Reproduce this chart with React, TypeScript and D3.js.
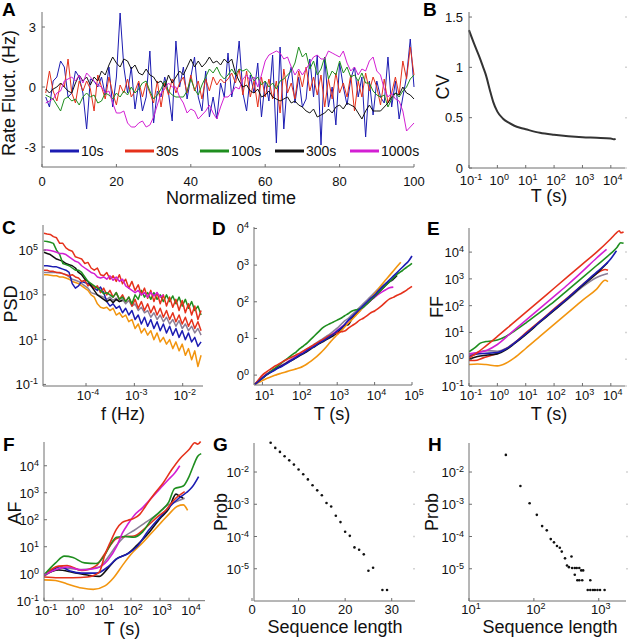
import React from "react";
import * as d3 from "d3";

const FONT = "'Liberation Sans', Arial, Helvetica, sans-serif";
const AXIS = "#6e6e6e";
const COL = {
  blue: "#1c1cb2",
  red: "#e5311b",
  green: "#1f8e1f",
  black: "#111111",
  magenta: "#d31fd3",
  gray: "#8b7f98",
  orange: "#f2950f",
};

// ---------------- Panel A: rate fluctuations ----------------
const aLegend = ["10s", "30s", "100s", "300s", "1000s"];
const a10s = [-0.5,-1.0,0.3,0.5,1.3,1.0,-0.5,-0.3,0.8,0.5,-0.3,-2.1,0.4,0.3,0.0,0.5,-0.4,1.0,-1.0,0.5,
  3.7,1.0,-0.3,1.0,-1.1,0.2,-1.2,-0.5,1.8,-1.8,-0.2,-0.5,0.5,-0.3,-1.7,2.3,0.0,1.0,-0.6,0.5,
  1.5,-0.5,-1.2,0.8,-1.5,-0.5,-1.6,0.2,-0.5,1.7,-0.5,0.5,2.3,-0.3,-1.2,0.6,-0.3,1.2,-1.5,0.3,
  -0.7,1.6,-2.8,2.0,-2.1,0.3,1.0,-0.8,0.5,-1.0,-0.6,1.4,-0.5,1.6,-2.9,1.5,-1.0,0.0,-1.9,1.2,
  0.0,-0.9,0.4,1.0,-0.5,0.5,-2.5,0.3,-1.4,0.3,-0.5,-0.8,1.5,-1.0,0.3,-1.6,-0.5,0.5,2.4,0.0];
const a30s = [-0.3,0.8,-0.2,-0.7,0.2,0.0,1.4,-0.3,-0.8,0.3,-0.2,0.3,-0.1,-1.2,0.6,0.0,-0.6,0.5,-0.3,-0.9,
  0.1,-0.3,0.4,-0.5,-0.2,0.3,-0.5,0.2,-0.3,-0.8,0.3,-1.0,0.2,-0.4,0.4,-0.3,0.2,0.5,-0.3,0.6,
  -0.2,0.3,-0.6,0.4,-0.2,0.5,0.1,0.4,0.2,0.4,0.7,0.2,0.9,-0.4,0.8,-0.5,0.3,-1.0,0.5,-0.5,
  0.4,-0.6,0.3,-1.3,0.9,-0.3,0.2,-0.6,0.8,0.0,1.0,-0.2,0.5,-0.4,0.6,-1.0,0.4,-0.6,0.7,-0.3,
  0.2,-0.5,0.6,-1.2,0.3,-0.5,0.7,-0.2,0.5,0.0,-0.9,0.4,-0.8,-0.3,0.5,-0.4,1.3,0.4,2.0,0.6];
const a100s = [-0.4,-0.5,-0.6,-0.9,-1.2,-0.6,-0.5,-0.7,-0.6,-0.9,-0.5,-0.3,-0.5,-0.4,-0.8,-0.7,-0.3,-0.4,-0.6,-0.3,
  -0.5,-0.2,-0.4,0.0,-0.3,-0.1,0.2,0.3,-0.2,-0.6,-0.4,-0.1,0.3,-0.2,-0.4,-0.5,-0.5,-0.5,-0.2,0.4,
  -0.1,-0.4,0.1,0.5,0.9,0.7,1.0,0.6,0.4,0.6,0.9,0.6,0.9,0.8,0.9,0.7,0.3,0.5,0.1,0.3,
  0.0,0.2,-0.1,0.3,0.4,0.6,0.8,1.2,2.0,1.5,1.7,0.9,1.3,0.6,0.9,1.5,0.4,0.8,0.6,1.3,
  0.7,1.0,0.5,0.6,0.3,0.7,0.2,0.2,-0.2,-0.4,-0.5,-0.4,-1.0,-0.6,-0.3,-0.5,-0.2,0.0,0.4,0.6];
const a300s = [-0.1,-0.3,-0.1,0.0,0.2,0.0,-0.2,-0.3,0.2,0.6,0.3,0.5,0.1,0.5,0.3,0.8,0.6,1.1,1.5,1.2,
  1.0,1.4,1.3,0.9,1.1,0.7,0.6,0.9,0.6,0.5,0.2,0.3,0.0,0.6,0.2,0.5,0.8,0.6,1.0,1.4,
  1.0,1.3,1.0,1.2,1.5,1.2,1.3,1.1,1.4,1.2,1.4,0.7,0.3,0.0,0.1,-0.2,-0.3,-0.1,-0.5,-0.4,
  -0.2,-0.5,-0.6,-0.7,-0.6,-0.5,-0.8,-0.7,-0.9,-1.0,-1.2,-1.3,-1.1,-1.5,-1.4,-1.3,-1.1,-1.3,-1.0,-0.9,
  -1.1,-0.8,-0.9,-1.0,-1.3,-1.6,-1.2,-0.9,-1.2,-1.2,-1.2,-1.0,-0.8,-0.5,-0.3,-0.4,0.0,-0.3,-0.4,-0.6];
const a1000s = [-0.8,-0.7,-0.6,-0.3,-0.2,0.3,0.4,0.5,0.3,0.6,0.2,0.7,0.5,0.3,0.1,0.0,-0.3,-0.2,-0.8,-1.3,
  -1.3,-1.2,-1.8,-2.0,-2.0,-1.8,-1.7,-2.0,-1.9,-1.5,-0.9,-0.3,-0.1,0.2,0.0,0.0,-0.5,-0.8,-1.3,-1.1,
  -1.2,-1.6,-1.4,-1.2,-0.9,-1.3,-1.6,-1.0,-0.5,-0.5,-0.3,0.0,-0.1,0.4,0.6,0.3,0.5,0.0,0.6,1.3,
  1.6,1.7,1.8,1.7,1.4,1.5,1.0,0.6,0.9,0.6,0.9,1.2,1.5,1.6,1.4,1.4,1.8,1.7,1.6,1.5,
  1.8,1.2,0.8,1.0,0.6,0.9,0.8,1.3,1.5,0.8,0.6,-0.1,-0.5,-0.3,-0.6,-0.7,-1.2,-2.2,-2.0,-1.8];
const aXTicks = [0, 20, 40, 60, 80, 100];
const aYTicks = [-3, 0, 3];

// ---------------- Panel B: CV vs T (log10 T, CV) ----------------
const bLogT = [-1, -0.8, -0.6, -0.5, -0.4, -0.27, -0.15, 0, 0.2, 0.4, 0.6, 0.8, 1, 1.5, 2, 2.5, 3, 3.5, 4, 4.1, 4.17];
const bCV = [1.37, 1.22, 1.08, 1.0, 0.92, 0.78, 0.66, 0.56, 0.49, 0.45, 0.42, 0.4, 0.385, 0.35, 0.33, 0.315, 0.305, 0.3, 0.293, 0.285, 0.29];
const bYTicks = [0, 0.5, 1, 1.5];
const decadeTicksT = [-1, 0, 1, 2, 3, 4];

// ---------------- Panel C: PSD (log10 f grid, log10 PSD) ----------------
const cLogF = d3.range(51).map((i) => -4.87 + i * 0.065);
const cRed1 = [5.75,5.72,5.7,5.6,5.55,5.3,5.3,5.1,5.0,4.95,4.7,4.65,4.6,4.4,4.45,4.2,4.1,4.2,3.9,3.85,4.0,3.7,3.85,3.6,3.9,3.5,3.7,3.3,3.6,3.2,3.45,3.0,3.3,2.85,3.2,2.7,3.1,2.6,3.0,2.5,2.9,2.45,2.8,2.3,2.75,2.2,2.6,2.1,2.5,1.9,2.3];
const cGreen = [5.4,5.38,5.35,5.3,5.0,4.8,4.4,4.35,4.3,4.2,4.1,4.1,4.0,3.8,3.6,3.5,3.4,3.3,3.2,3.05,3.1,3.0,2.9,3.1,2.8,2.9,2.7,2.9,2.6,3.0,2.8,3.2,2.9,3.1,2.8,3.1,2.8,3.0,2.7,3.0,2.7,2.95,2.6,2.9,2.5,2.8,2.4,2.7,2.3,2.5,2.1];
const cMagenta = [5.0,5.0,4.98,4.95,4.9,4.85,4.85,4.8,4.7,4.6,4.5,4.45,4.3,4.2,4.1,4.0,3.95,3.8,3.75,3.8,3.7,3.85,3.65,3.8,3.6,3.7,3.4,3.3,3.2,3.1,3.2,3.0,3.1,2.9,3.1,2.95,3.1,2.9,3.0];
const cBlack = [4.9,4.85,4.8,4.7,4.6,4.55,4.5,4.4,4.35,4.3,4.2,4.0,3.9,3.7,3.6,3.4,3.2,3.0,2.9,2.8,2.7,2.8,2.65,2.8,2.7,2.75];
const cBlue = [4.3,4.3,4.28,4.25,4.25,4.2,4.15,4.1,4.0,3.5,3.3,3.4,3.6,3.55,3.5,3.4,3.3,3.2,3.35,3.1,2.7,2.5,2.6,2.4,2.5,2.2,2.4,2.1,2.3,1.9,2.1,1.7,2.0,1.6,1.9,1.5,1.8,1.4,1.7,1.3,1.6,1.2,1.5,1.1,1.4,1.0,1.3,0.9,1.1,0.7,0.9];
const cGray = [4.0,4.0,4.0,4.0,4.0,3.98,3.95,3.9,3.8,3.7,3.65,3.6,3.5,3.4,3.3,3.1,3.05,3.0,2.95,2.9,2.8,2.9,2.75,2.85,2.7,2.8,2.6,2.75,2.5,2.6,2.3,2.45,2.2,2.3,2.0,2.2,1.9,2.1,1.8,2.0,1.7,1.9,1.6,1.85,1.5,1.7,1.4,1.6,1.3,1.5,1.2];
const cOrange = [3.9,3.9,3.88,3.85,3.85,3.8,3.8,3.75,3.7,3.6,3.55,3.5,3.4,3.3,3.2,3.0,2.9,2.6,2.45,2.4,2.45,2.3,2.4,2.1,2.2,2.0,2.1,1.8,1.9,1.5,1.7,1.3,1.5,1.2,1.4,1.0,1.3,0.9,1.1,0.8,1.0,0.6,0.9,0.5,0.8,0.3,0.6,0.1,0.5,-0.2,0.3];
const cRed2 = [4.1,4.1,4.05,4.05,4.0,4.0,3.95,3.9,3.85,3.9,3.8,3.75,3.6,3.65,3.4,3.5,3.3,3.4,3.1,3.3,3.0,3.2,2.9,3.1,2.8,3.0,2.7,2.9,2.5,2.8,2.4,2.7,2.3,2.6,2.2,2.5,2.1,2.4,2.0,2.3,1.9,2.2,1.8,2.1,1.7,2.0,1.6,1.9,1.5,1.8,1.4];
const cXTicks = [-4, -3, -2];
const cYTicks = [-1, 1, 3, 5];

// ---------------- Panel D (log10 T grid, log10 value) ----------------
const dLogT = d3.range(43).map((i) => 0.8 + i * 0.1);
const dBlue = [-0.25,-0.17,-0.08,0.0,0.06,0.12,0.18,0.23,0.29,0.35,0.42,0.48,0.55,0.6,0.67,0.73,0.79,0.86,0.92,0.98,1.05,1.12,1.2,1.28,1.38,1.5,1.6,1.7,1.8,1.9,2.0,2.1,2.18,2.3,2.4,2.5,2.6,2.7,2.8,2.9,3.0,3.1,3.25];
const dBlack = [-0.25,-0.16,-0.08,0.0,0.07,0.13,0.19,0.24,0.3,0.36,0.41,0.47,0.53,0.59,0.65,0.72,0.78,0.85,0.9,0.96,1.02,1.08,1.15,1.25,1.35,1.38,1.55,1.65,1.75,1.88,1.95,2.05,2.15,2.25,2.35,2.45,2.55,2.62,2.72];
const dMagenta = [-0.25,-0.15,-0.06,0.02,0.09,0.15,0.2,0.26,0.3,0.38,0.43,0.5,0.56,0.62,0.7,0.75,0.82,0.88,0.95,1.0,1.06,1.14,1.22,1.3,1.38,1.48,1.58,1.68,1.77,1.86,1.95,2.04,2.12,2.2,2.27,2.33,2.38,2.4];
const dGray = [-0.25,-0.16,-0.07,0.01,0.08,0.14,0.2,0.26,0.32,0.38,0.45,0.52,0.58,0.65,0.72,0.78,0.85,0.92,0.98,1.05,1.12,1.2,1.28,1.38,1.48,1.55,1.65,1.75,1.85,1.95,2.05,2.15,2.25,2.35,2.42,2.5,2.55,2.6];
const dGreen = [-0.25,-0.16,-0.08,0.0,0.08,0.16,0.24,0.32,0.4,0.48,0.56,0.63,0.72,0.8,0.88,0.98,1.08,1.18,1.28,1.35,1.4,1.45,1.5,1.55,1.62,1.68,1.75,1.78,1.8,1.85,1.95,2.05,2.15,2.25,2.35,2.45,2.55,2.65,2.75,2.82,2.9,2.97,3.05];
const dRed = [-0.25,-0.12,0.0,0.08,0.15,0.22,0.28,0.34,0.4,0.45,0.5,0.55,0.6,0.66,0.72,0.78,0.84,0.9,0.96,1.02,1.08,1.12,1.15,1.18,1.2,1.28,1.35,1.42,1.5,1.55,1.62,1.7,1.75,1.82,1.9,2.0,2.08,2.12,2.18,2.22,2.28,2.35,2.42];
const dOrange = [-0.25,-0.2,-0.15,-0.1,-0.06,-0.02,0.02,0.05,0.08,0.11,0.14,0.17,0.2,0.25,0.31,0.38,0.46,0.55,0.65,0.76,0.88,1.0,1.1,1.2,1.31,1.42,1.52,1.63,1.74,1.86,1.98,2.1,2.22,2.35,2.48,2.6,2.72,2.84,2.96,3.08];
const dXTicks = [1, 2, 3, 4, 5];
const dYTicks = [0, 1, 2, 3, 4];

// ---------------- Panel E: FF ([log10 T, log10 FF]) ----------------
const eRed = [[-1,0.05],[-0.7,0.25],[-0.4,0.5],[0,0.85],[0.5,1.3],[1,1.75],[1.5,2.2],[2,2.65],[2.5,3.1],[3,3.55],[3.5,4.0],[4,4.5],[4.2,4.72],[4.3,4.8],[4.35,4.72],[4.45,4.75]];
const eMagenta = [[-1,0.2],[-0.7,0.25],[-0.4,0.32],[0,0.55],[0.5,1.0],[1,1.45],[1.5,1.9],[2,2.35],[2.5,2.8],[3,3.28],[3.5,3.78],[3.85,4.1]];
const eGreen = [[-1,0.28],[-0.8,0.42],[-0.6,0.6],[-0.4,0.66],[-0.2,0.68],[0,0.72],[0.3,0.85],[0.6,1.05],[1,1.35],[1.5,1.75],[2,2.15],[2.5,2.6],[3,3.05],[3.5,3.5],[4,3.95],[4.2,4.15],[4.35,4.35],[4.45,4.33]];
const eBlue = [[-1,0.1],[-0.7,0.2],[-0.4,0.22],[0,0.25],[0.3,0.38],[0.6,0.6],[1,0.95],[1.5,1.4],[2,1.85],[2.5,2.3],[3,2.78],[3.5,3.25],[4,3.75],[4.2,4.05]];
const eBlack = [[-1,0.0],[-0.7,0.1],[-0.4,0.15],[0,0.2],[0.3,0.35],[0.6,0.58],[1,0.92],[1.5,1.38],[2,1.82],[2.5,2.28],[3,2.75],[3.5,3.2],[3.9,3.62]];
const eRed2 = [[-1,-0.05],[-0.8,-0.05],[-0.5,0.05],[0,0.22],[0.3,0.38],[0.6,0.6],[1,0.98],[1.5,1.42],[2,1.88],[2.5,2.32],[3,2.78],[3.5,3.2],[3.8,3.35],[3.9,3.32]];
const eGray = [[-1,0.15],[-0.7,0.25],[-0.4,0.32],[0,0.3],[0.3,0.4],[0.6,0.62],[1,0.95],[1.5,1.4],[2,1.83],[2.5,2.25],[3,2.7],[3.5,3.05],[3.9,3.2]];
const eOrange = [[-1,-0.2],[-0.7,-0.18],[-0.4,-0.2],[0,-0.25],[0.3,-0.15],[0.6,0.05],[1,0.4],[1.5,0.85],[2,1.3],[2.5,1.75],[3,2.2],[3.5,2.62],[3.8,2.95],[3.9,2.9]];
const eYTicks = [-1, 0, 1, 2, 3, 4];

// ---------------- Panel F: AF ([log10 T, log10 AF]) ----------------
const fRed = [[-1,-0.12],[-0.5,-0.15],[0,-0.15],[0.5,-0.12],[0.9,0.05],[1.1,0.7],[1.3,1.2],[1.5,1.65],[1.7,1.9],[1.9,1.98],[2.1,2.05],[2.3,2.2],[2.5,2.5],[2.8,2.95],[3.1,3.35],[3.4,3.85],[3.7,4.28],[4.0,4.6],[4.2,4.85],[4.3,4.8],[4.4,4.9]];
const fMagenta = [[-1,-0.05],[-0.6,0.15],[-0.2,0.25],[0.3,0.14],[0.8,0.2],[1.2,0.5],[1.5,1.0],[1.7,1.5],[1.9,1.85],[2.1,2.15],[2.4,2.45],[2.7,2.8],[3.0,3.15],[3.3,3.5],[3.5,3.72],[3.68,4.0]];
const fGreen = [[-1,-0.05],[-0.6,0.4],[-0.3,0.65],[0,0.6],[0.4,0.4],[0.8,0.38],[1.1,0.7],[1.3,1.1],[1.5,1.35],[1.8,1.38],[2.1,1.35],[2.4,1.55],[2.7,2.0],[3.0,2.3],[3.3,2.65],[3.5,3.15],[3.8,3.25],[4.0,3.6],[4.15,4.0],[4.3,4.35],[4.42,4.45]];
const fBlue = [[-1,-0.05],[-0.7,0.15],[-0.45,0.26],[-0.1,0.1],[0.3,0.02],[0.8,0.02],[1.2,0.25],[1.5,0.55],[1.9,0.75],[2.2,1.0],[2.6,1.6],[3.0,2.1],[3.3,2.45],[3.6,2.75],[3.9,3.0],[4.1,3.2],[4.33,3.6]];
const fBlack = [[-1,-0.05],[-0.5,0.14],[0,0.05],[0.5,-0.05],[0.9,-0.1],[1.2,0.2],[1.5,0.55],[1.9,0.75],[2.2,1.05],[2.6,1.5],[3.0,2.05],[3.3,2.4],[3.55,2.95],[3.7,2.85],[3.8,2.8]];
const fGray = [[-1,-0.1],[-0.6,0.15],[-0.2,0.2],[0.3,0.15],[0.9,0.25],[1.2,0.6],[1.5,1.05],[1.8,1.4],[2.1,1.6],[2.5,1.9],[2.9,2.2],[3.2,2.5],[3.5,2.65],[3.85,2.8]];
const fRed2 = [[-1,-0.05],[-0.5,0.28],[-0.2,0.3],[0.3,0.12],[0.8,0.3],[1.1,0.75],[1.5,1.3],[1.8,1.38],[2.1,1.4],[2.5,1.7],[2.9,2.1],[3.2,2.35],[3.5,2.75],[3.85,3.04]];
const fOrange = [[-1,-0.23],[-0.6,-0.25],[-0.2,-0.38],[0.3,-0.53],[0.7,-0.58],[1.1,-0.45],[1.4,-0.15],[1.7,0.3],[2.0,0.72],[2.4,1.15],[2.7,1.5],[3.0,1.85],[3.3,2.2],[3.6,2.5],[3.8,2.55],[3.95,2.35]];

// ---------------- Panel G: sequence length distribution ----------------
const gLength = [4,5,6,7,8,9,10,11,12,13,14,15,16,17,18,19,20,21,22,23,24,25,26,28,29];
const gProb = [8.1e-2,5.6e-2,4.2e-2,3.1e-2,2.3e-2,1.7e-2,1.2e-2,8.5e-3,5.9e-3,3.9e-3,2.7e-3,1.9e-3,1.1e-3,8.5e-4,4.4e-4,2.8e-4,1.4e-4,1.05e-4,4.6e-5,3.9e-5,2.8e-5,8.7e-6,1.07e-5,2.2e-6,2.2e-6];
const gXTicks = [0, 10, 20, 30];
const probTicks = [-5, -4, -3, -2];

// ---------------- Panel H ----------------
const hLength = [37,62,86,111,134,158,182,204,227,251,269,302,324,380,347,389,427,457,501,427,537,575,468,501,556,741,676,741,813,871,955,1047,1230];
const hProb = [3.4e-2,3.7e-3,1.07e-3,4.7e-4,2.1e-4,1.55e-4,8.3e-5,6.6e-5,5.1e-5,4.5e-5,3.4e-5,2.1e-5,1.26e-5,2.4e-5,1.12e-5,1.05e-5,1.05e-5,1.05e-5,1.05e-5,6.5e-6,8.9e-6,8.9e-6,4.4e-6,4.4e-6,4.4e-6,4.4e-6,2.2e-6,2.2e-6,2.2e-6,2.2e-6,2.2e-6,2.2e-6,2.2e-6];
const hXTicks = [1, 2, 3];

type Sc = d3.ScaleLinear<number, number>;

function Frame({ x0, x1, y0, y1 }: { x0: number; x1: number; y0: number; y1: number }) {
  return <path d={`M${x0},${y0}V${y1}H${x1}`} fill="none" stroke={AXIS} strokeWidth={1} />;
}

function RightTicks({ sc, ticks, x1 }: { sc: Sc; ticks: number[]; x1: number }) {
  return (
    <g>
      {ticks.map((t) => (
        <line key={t} x1={x1 - 2} x2={x1} y1={sc(t)} y2={sc(t)} stroke="#d4d4d4" strokeWidth={1.5} />
      ))}
    </g>
  );
}

function PowLabel({ x, y, exp, anchor = "middle", base = "10" }: any) {
  return (
    <text x={x} y={y} textAnchor={anchor} fontSize={13} fontFamily={FONT} fill="#111">
      {base}
      <tspan dy={-5} fontSize={9}>{exp}</tspan>
    </text>
  );
}

function XTicks({ sc, ticks, y0, labelY, pow, base }: { sc: Sc; ticks: number[]; y0: number; labelY: number; pow?: boolean; base?: string }) {
  return (
    <g>
      {ticks.map((t) => (
        <g key={t}>
          <line x1={sc(t)} x2={sc(t)} y1={y0} y2={y0 - 3} stroke={AXIS} />
          {pow ? (
            <PowLabel x={sc(t) + 2} y={labelY} exp={String(t)} base={base ?? "10"} />
          ) : (
            <text x={sc(t)} y={labelY} textAnchor="middle" fontSize={13} fontFamily={FONT} fill="#111">{t}</text>
          )}
        </g>
      ))}
    </g>
  );
}

function YTicks({ sc, ticks, x0, labels, pow, base }: { sc: Sc; ticks: number[]; x0: number; labels?: string[]; pow?: boolean; base?: string }) {
  return (
    <g>
      {ticks.map((t, i) => (
        <g key={t}>
          <line x1={x0} x2={x0 + 3} y1={sc(t)} y2={sc(t)} stroke={AXIS} />
          {pow ? (
            <PowLabel x={x0 - 5} y={sc(t) + 5} exp={String(t)} anchor="end" base={base ?? "10"} />
          ) : (
            <text x={x0 - 6} y={sc(t) + 4.5} textAnchor="end" fontSize={13} fontFamily={FONT} fill="#111">
              {labels ? labels[i] : t}
            </text>
          )}
        </g>
      ))}
    </g>
  );
}

function Label({ x, y, text, rotate }: { x: number; y: number; text: string; rotate?: boolean }) {
  return (
    <text
      transform={`translate(${x},${y})${rotate ? " rotate(-90)" : ""}`}
      textAnchor="middle"
      fontSize={18}
      fontFamily={FONT}
      fill="#111"
    >
      {text}
    </text>
  );
}

function Letter({ x, y, t }: { x: number; y: number; t: string }) {
  return <text x={x} y={y} fontSize={19} fontWeight="bold" fontFamily={FONT} fill="#000">{t}</text>;
}

export default function App() {
  // ---- A
  const xA = d3.scaleLinear().domain([0, 100]).range([42, 414]);
  const yA = d3.scaleLinear().domain([-4, 3.75]).range([167, 12]);
  const lineA = d3.line<number>().x((_, i) => xA(i + 1)).y((v) => yA(v));
  const aSeries = [a10s, a30s, a100s, a300s, a1000s];
  const aColors = [COL.blue, COL.red, COL.green, COL.black, COL.magenta];

  // ---- B
  const xB = d3.scaleLinear().domain([-1, 4.5]).range([469, 625]);
  const yB = d3.scaleLinear().domain([0, 1.55]).range([168, 12]);
  const lineB = d3.line<number>().x((_, i) => xB(bLogT[i])).y((v) => yB(v)).curve(d3.curveMonotoneX);

  // ---- C
  const xC = d3.scaleLinear().domain([-4.89, -1.58]).range([43, 203]);
  const yC = d3.scaleLinear().domain([-1.07, 6.12]).range([386, 225]);
  const lineC = d3.line<number>().x((_, i) => xC(cLogF[i])).y((v) => yC(v));
  const cSeries: [number[], string][] = [
    [cGray, COL.gray], [cOrange, COL.orange], [cBlue, COL.blue], [cRed2, COL.red],
    [cBlack, COL.black], [cGreen, COL.green], [cRed1, COL.red], [cMagenta, COL.magenta],
  ];

  // ---- D
  const xD = d3.scaleLinear().domain([0.775, 5]).range([254, 412]);
  const yD = d3.scaleLinear().domain([-0.27, 4.04]).range([385, 227]);
  const lineD = d3.line<number>().x((_, i) => xD(dLogT[i])).y((v) => yD(v)).curve(d3.curveMonotoneX);
  const dSeries: [number[], string][] = [
    [dGray, COL.gray], [dMagenta, COL.magenta], [dBlack, COL.black], [dOrange, COL.orange],
    [dGreen, COL.green], [dRed, COL.red], [dBlue, COL.blue],
  ];

  // ---- E
  const xE = d3.scaleLinear().domain([-1, 4.5]).range([469, 625]);
  const yE = d3.scaleLinear().domain([-1, 4.9]).range([386, 228]);
  const lineE = d3.line<number[]>().x((d) => xE(d[0])).y((d) => yE(d[1])).curve(d3.curveMonotoneX);
  const eSeries: [number[][], string][] = [
    [eOrange, COL.orange], [eGray, COL.gray], [eRed2, COL.red], [eBlack, COL.black],
    [eBlue, COL.blue], [eGreen, COL.green], [eMagenta, COL.magenta], [eRed, COL.red],
  ];

  // ---- F
  const xF = d3.scaleLinear().domain([-1, 4.55]).range([44, 205]);
  const yF = d3.scaleLinear().domain([-1, 4.88]).range([600.7, 442]);
  const lineF = d3.line<number[]>().x((d) => xF(d[0])).y((d) => yF(d[1])).curve(d3.curveMonotoneX);
  const fSeries: [number[][], string][] = [
    [fOrange, COL.orange], [fGray, COL.gray], [fBlack, COL.black], [fBlue, COL.blue],
    [fRed2, COL.red], [fGreen, COL.green], [fMagenta, COL.magenta], [fRed, COL.red],
  ];

  // ---- G
  const xG = d3.scaleLinear().domain([0, 35]).range([252, 415]);
  const yG = d3.scaleLinear().domain([-6, -1.1]).range([601, 443]);

  // ---- H
  const xH = d3.scaleLinear().domain([1, 3.42]).range([469, 626]);
  const yH = d3.scaleLinear().domain([-6, -1.1]).range([601, 443]);

  return (
    <svg
      width={629}
      height={640}
      viewBox="0 0 629 640"
      style={{ display: "block", background: "#fff", position: "absolute", left: 0, top: 0 }}
      fontFamily={FONT}
    >
      <rect width={629} height={640} fill="#fff" />
      <defs>
        <clipPath id="clipC"><rect x={43} y={225} width={161} height={161} /></clipPath>
        <clipPath id="clipD"><rect x={254} y={227} width={160} height={158} /></clipPath>
        <clipPath id="clipE"><rect x={469} y={226} width={158} height={160} /></clipPath>
        <clipPath id="clipF"><rect x={44} y={440} width={163} height={161} /></clipPath>
      </defs>

      {/* ===== A ===== */}
      <g>
        {aSeries.map((s, k) => (
          <path key={k} d={lineA(s) ?? ""} fill="none" stroke={aColors[k]} strokeWidth={1} strokeLinejoin="round" />
        ))}
        {aLegend.map((name, i) => (
          <g key={name}>
            <line x1={50 + i * 75} x2={79 + i * 75} y1={151} y2={151} stroke={aColors[i]} strokeWidth={3} />
            <text x={81 + i * 75} y={156} fontSize={14} fontFamily={FONT} fill="#111">{name}</text>
          </g>
        ))}
        <Frame x0={42} x1={414} y0={12} y1={167} />
        <XTicks sc={xA} ticks={aXTicks} y0={167} labelY={186} />
        <YTicks sc={yA} ticks={aYTicks} x0={42} />
        <Label x={231} y={204} text="Normalized time" />
        <Label x={15} y={93} text="Rate Fluct. (Hz)" rotate />
        <Letter x={2} y={16} t="A" />
      </g>

      {/* ===== B ===== */}
      <g>
        <path d={lineB(bCV) ?? ""} fill="none" stroke="#333" strokeWidth={2} />
        <Frame x0={469} x1={625} y0={12} y1={168} />
        <RightTicks sc={yB} ticks={bYTicks} x1={627} />
        <XTicks sc={xB} ticks={decadeTicksT} y0={168} labelY={184.5} pow />
        <YTicks sc={yB} ticks={bYTicks} x0={469} labels={["0", "0.5", "1", "1.5"]} />
        <Label x={549} y={202} text="T (s)" />
        <Label x={449} y={87} text="CV" rotate />
        <Letter x={423} y={16} t="B" />
      </g>

      {/* ===== C ===== */}
      <g>
        <g clipPath="url(#clipC)">
          {cSeries.map(([s, c], k) => (
            <path key={k} d={lineC(s) ?? ""} fill="none" stroke={c} strokeWidth={1.5} strokeLinejoin="round" />
          ))}
        </g>
        <Frame x0={43} x1={203} y0={225} y1={386} />
        <XTicks sc={xC} ticks={cXTicks} y0={386} labelY={400} pow />
        <YTicks sc={yC} ticks={cYTicks} x0={43} pow />
        <Label x={123} y={420} text="f (Hz)" />
        <Label x={17} y={304} text="PSD" rotate />
        <Letter x={2} y={234} t="C" />
      </g>

      {/* ===== D ===== */}
      <g>
        <g clipPath="url(#clipD)">
          {dSeries.map(([s, c], k) => (
            <path key={k} d={lineD(s) ?? ""} fill="none" stroke={c} strokeWidth={1.6} />
          ))}
        </g>
        <Frame x0={254} x1={412} y0={227} y1={385} />
        <XTicks sc={xD} ticks={dXTicks} y0={385} labelY={400} pow />
        <YTicks sc={yD} ticks={dYTicks} x0={254} pow base="0" />
        <Label x={332} y={420} text="T (s)" />
        <Letter x={212} y={235} t="D" />
      </g>

      {/* ===== E ===== */}
      <g>
        <g clipPath="url(#clipE)">
          {eSeries.map(([s, c], k) => (
            <path key={k} d={lineE(s) ?? ""} fill="none" stroke={c} strokeWidth={1.6} />
          ))}
        </g>
        <Frame x0={469} x1={625} y0={228} y1={386} />
        <RightTicks sc={yE} ticks={eYTicks} x1={627} />
        <XTicks sc={xE} ticks={decadeTicksT} y0={386} labelY={400} pow />
        <YTicks sc={yE} ticks={eYTicks} x0={469} pow />
        <Label x={549} y={420} text="T (s)" />
        <Label x={443} y={307} text="FF" rotate />
        <Letter x={427} y={235} t="E" />
      </g>

      {/* ===== F ===== */}
      <g>
        <g clipPath="url(#clipF)">
          {fSeries.map(([s, c], k) => (
            <path key={k} d={lineF(s) ?? ""} fill="none" stroke={c} strokeWidth={1.6} />
          ))}
        </g>
        <Frame x0={44} x1={205} y0={442} y1={600.7} />
        <XTicks sc={xF} ticks={decadeTicksT} y0={600.7} labelY={615} pow />
        <YTicks sc={yF} ticks={eYTicks} x0={44} pow />
        <Label x={122} y={635} text="T (s)" />
        <Label x={21} y={513} text="AF" rotate />
        <Letter x={3} y={451} t="F" />
      </g>

      {/* ===== G ===== */}
      <g>
        {gLength.map((L, i) => (
          <circle key={i} cx={xG(L)} cy={yG(Math.log10(gProb[i]))} r={1.3} fill="#111" />
        ))}
        <Frame x0={254} x1={415} y0={443} y1={601} />
        <RightTicks sc={yG} ticks={probTicks} x1={415} />
        <XTicks sc={xG} ticks={gXTicks} y0={601} labelY={614} />
        <YTicks sc={yG} ticks={probTicks} x0={254} pow />
        <Label x={335} y={633} text="Sequence length" />
        <Label x={227} y={512} text="Prob" rotate />
        <Letter x={213} y={451} t="G" />
      </g>

      {/* ===== H ===== */}
      <g>
        {hLength.map((L, i) => (
          <circle key={i} cx={xH(Math.log10(L))} cy={yH(Math.log10(hProb[i]))} r={1.3} fill="#111" />
        ))}
        <Frame x0={469} x1={626} y0={443} y1={601} />
        <RightTicks sc={yH} ticks={probTicks} x1={628} />
        <XTicks sc={xH} ticks={hXTicks} y0={601} labelY={614} pow />
        <YTicks sc={yH} ticks={probTicks} x0={469} pow />
        <Label x={550} y={633} text="Sequence length" />
        <Label x={438} y={512} text="Prob" rotate />
        <Letter x={428} y={451} t="H" />
      </g>
    </svg>
  );
}
